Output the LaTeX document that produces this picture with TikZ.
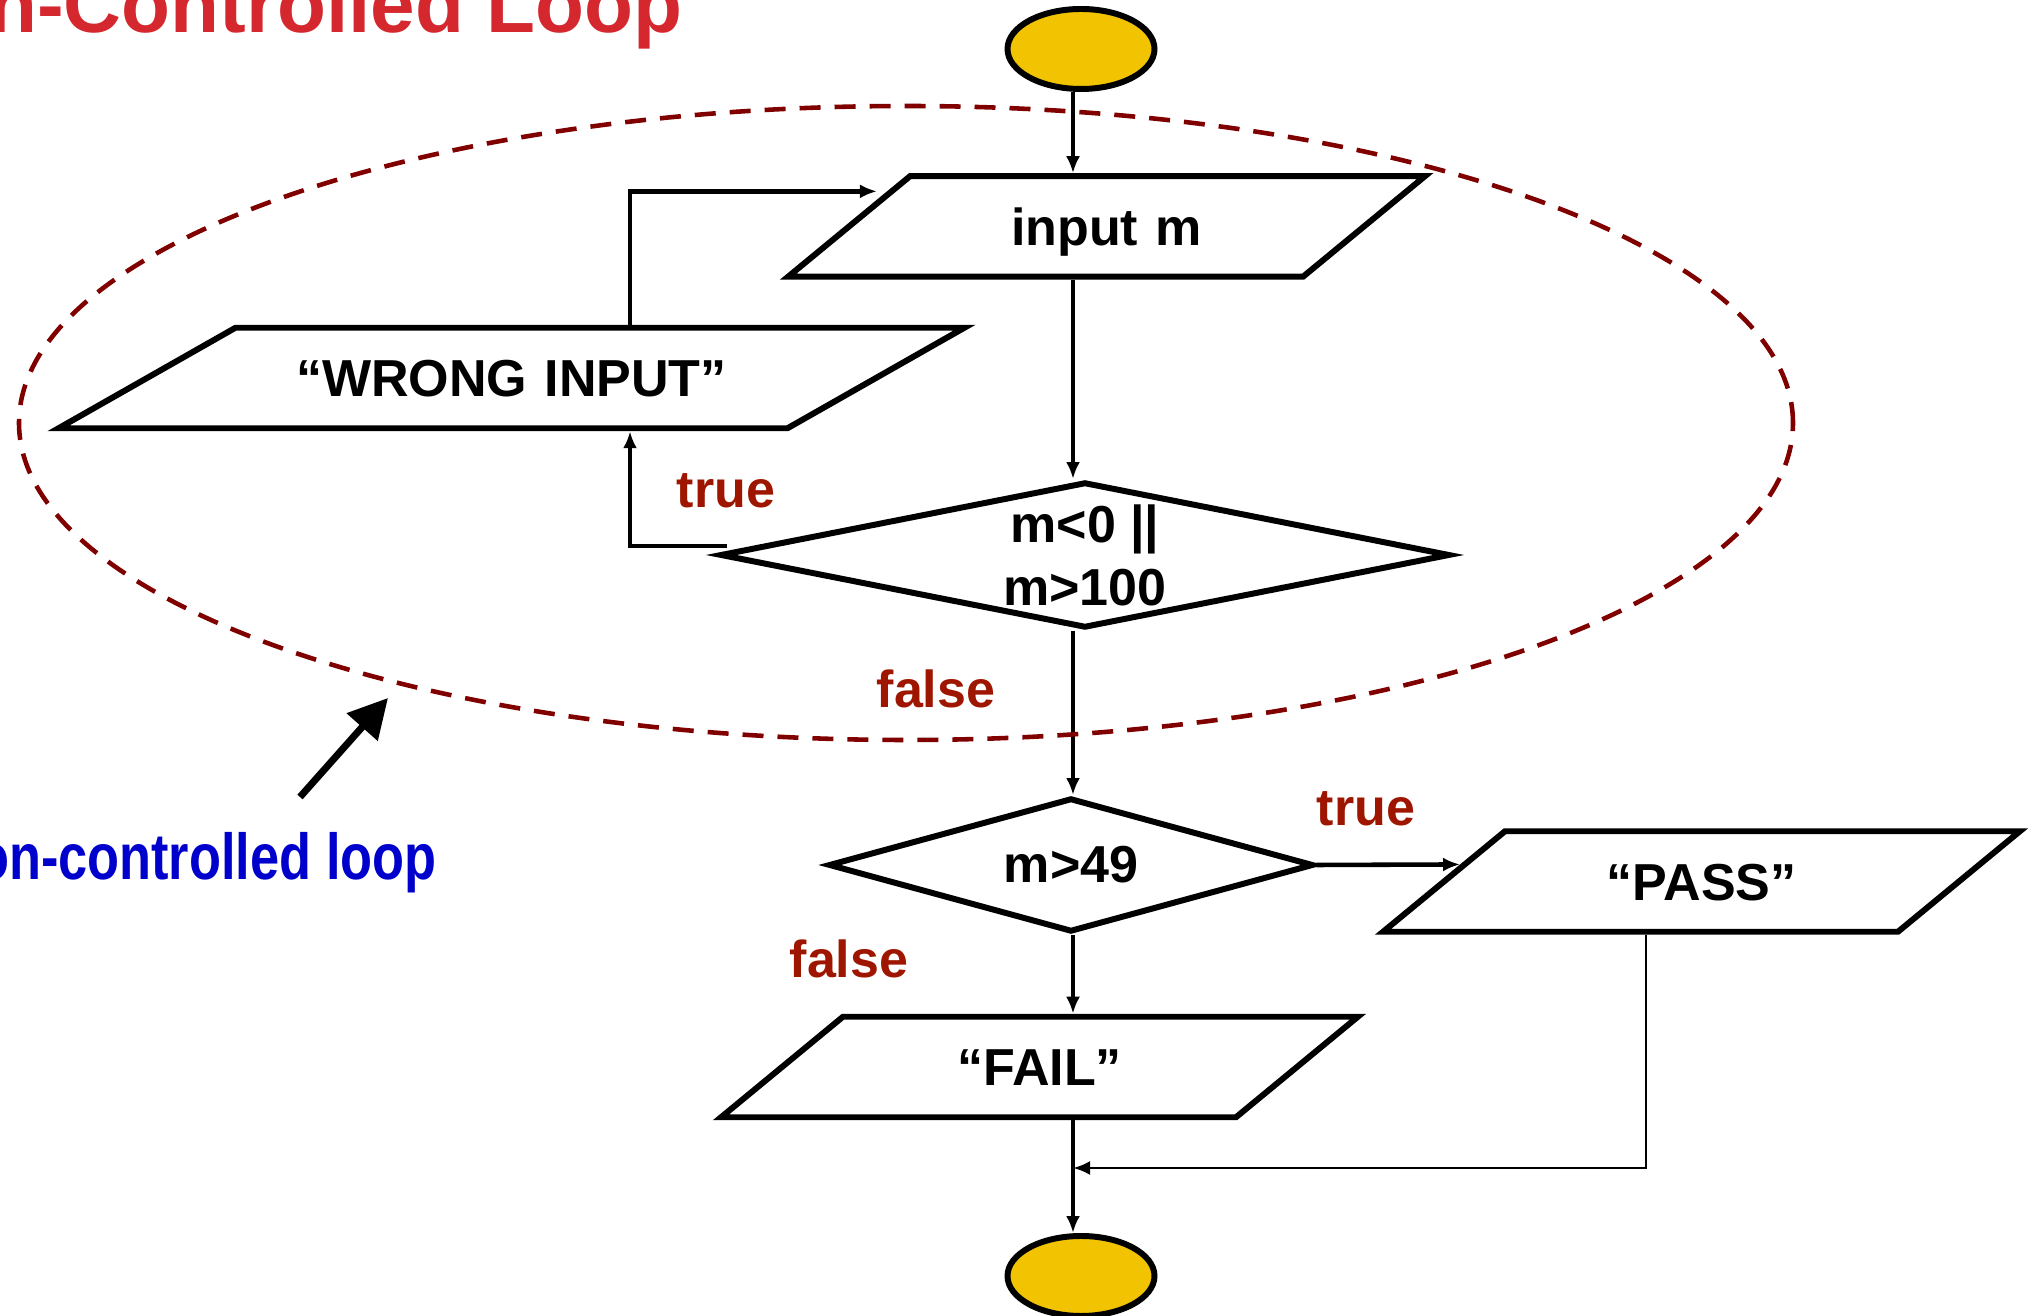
\documentclass[tikz,border=0pt]{standalone}
\usepackage{fontspec}
\setmainfont{Liberation Sans}
\usetikzlibrary{shapes.geometric,arrows.meta,calc}

\definecolor{termgold}{RGB}{242,195,0}
\definecolor{titlered}{RGB}{212,40,46}
\definecolor{branchred}{RGB}{158,22,0}
\definecolor{loopred}{RGB}{128,0,0}
\definecolor{noteblue}{RGB}{0,0,204}

\begin{document}
\begin{tikzpicture}[>={Latex[length=1.7mm,width=1.4mm]},line join=miter,
	term/.style={ellipse,draw,fill=termgold,line width=1.7pt,minimum width=14.7mm,minimum height=8mm},
	io/.style={trapezium,draw,line width=1.7pt,inner sep=0pt,align=center,text height=6.9mm,text depth=3.15mm,font=\fontsize{14.8}{17.8}\selectfont\bfseries},
	decision/.style={diamond,draw,line width=1.7pt,inner sep=0pt,align=center,font=\fontsize{14.8}{17.9}\selectfont\bfseries},
	flow/.style={->,line width=1.3pt},
	branch/.style={anchor=base,inner sep=0pt,text=branchred,font=\fontsize{14.8}{17.8}\selectfont\bfseries},
	loopline/.style={draw=loopred,line width=1.3pt,dash pattern=on 2.1mm off 1.4mm}]
			
			\clip (0,0) rectangle (20.31,13.16);
			
			\node[anchor=base east,inner sep=0pt,text=titlered,font=\fontsize{22.8}{27}\selectfont\bfseries] (title) at (6.83,12.83) {Condition-Controlled Loop};
			
			\node[term] (start) at (10.81,12.67) {};
			\node[io,trapezium left angle=39.5,trapezium right angle=140.5,text width=39.3mm] (input) at (11.065,10.895) {input m};
			\node[io,trapezium left angle=29.6,trapezium right angle=150.4,text width=55.2mm] (wrong) at (5.115,9.38) {“WRONG INPUT”};
			\node[decision,minimum width=73mm,minimum height=14.6mm,aspect=5] (cond) at (10.85,7.61) {m<0 ||\\m>100};
			\node[decision,minimum width=48.5mm,minimum height=13.4mm,aspect=3.6] (grade) at (10.71,4.51) {m>49};
			\node[io,trapezium left angle=39.5,trapezium right angle=140.5,text width=39.3mm] (pass) at (17.015,4.345) {“PASS”};
			\node[io,trapezium left angle=39.5,trapezium right angle=140.5,text width=39.3mm] (fail) at (10.395,2.49) {“FAIL”};
			\node[term] (stop) at (10.81,0.40) {};
			
			\coordinate (col) at (10.73,0);
			\coordinate (back) at (6.30,0);
			\coordinate (join) at (10.73,1.48);
			
			\draw[flow] (start.south -| col) -- (input.north -| col);
			\draw[flow] (input.south -| col) -- (cond.north -| col);
			\draw[flow] (cond.south -| col) -- (grade.north -| col);
			\draw[flow] (grade.south -| col) -- (fail.north -| col);
			\draw[flow] (fail.south -| col) -- (stop.north -| col);
			\draw[flow] (grade.east) -- ($(pass.bottom left corner)!0.66!(pass.top left corner)$);
			\draw[flow,line width=0.8pt] ([xshift=0.9mm]pass.bottom side) |- (join);
			\draw[flow] ([shift={(0.1,0.09)}]cond.west) -| (wrong.south -| back);
			\draw[flow,shorten >=1mm] (wrong.north -| back) |- ($(input.bottom left corner)!0.83!(input.top left corner)$);
			
			\node[branch] (true1) at (7.26,8.08) {true};
			\node[branch] (false1) at (9.36,6.08) {false};
			\node[branch] (true2) at (13.66,4.90) {true};
			\node[branch] (false2) at (8.49,3.38) {false};
			
			\draw[loopline] (9.06,8.93) ellipse [x radius=8.87,y radius=3.17];
			
			\coordinate (ptail) at (3.00,5.19);
			\coordinate (ptip) at (3.88,6.18);
			\draw[-{Triangle[length=3.9mm,width=4mm]},line width=2pt] (ptail) -- (ptip);
			\node[anchor=base east,inner sep=0pt,xscale=0.805,text=noteblue,font=\fontsize{18.5}{22}\selectfont\bfseries] (note) at (4.37,4.36) {condition-controlled loop};
\end{tikzpicture}
\end{document}
